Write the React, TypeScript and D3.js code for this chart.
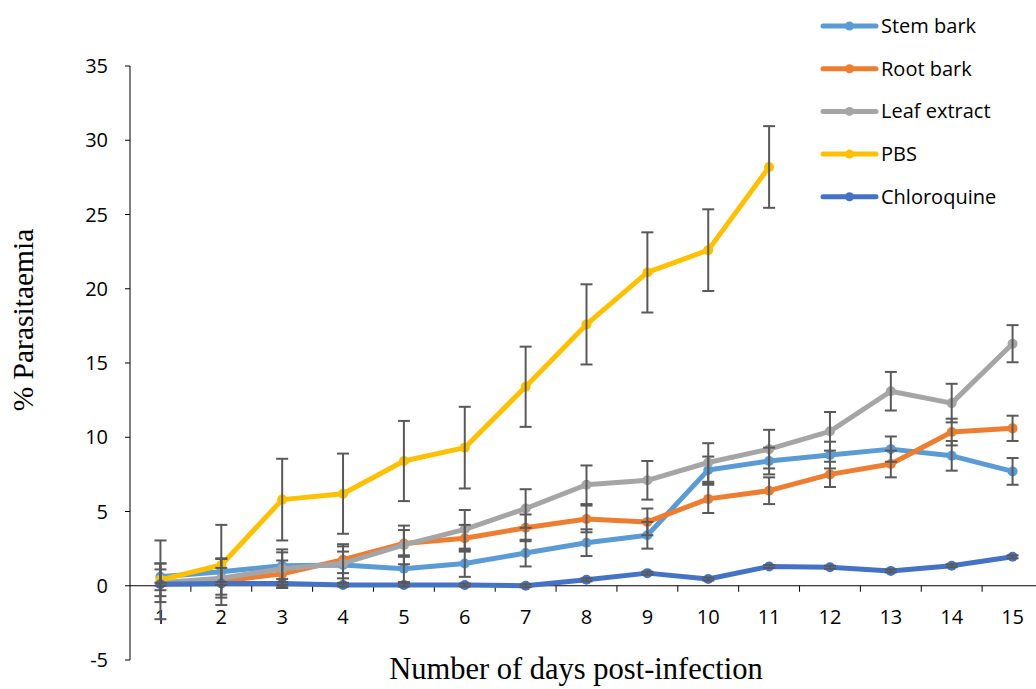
import { useEffect, useRef } from "react";
import * as d3 from "d3";

const days = [1, 2, 3, 4, 5, 6, 7, 8, 9, 10, 11, 12, 13, 14, 15];
const yTicks = [-5, 0, 5, 10, 15, 20, 25, 30, 35];

const stemBark = [0.6, 0.95, 1.35, 1.4, 1.15, 1.5, 2.2, 2.9, 3.4, 7.8, 8.4, 8.8, 9.2, 8.75, 7.7];
const stemBarkErr = [0.9, 0.9, 0.9, 0.9, 0.9, 0.9, 0.9, 0.9, 0.9, 0.9, 0.9, 0.9, 0.85, 1.0, 0.9];
const rootBark = [0.2, 0.3, 0.8, 1.75, 2.85, 3.2, 3.9, 4.5, 4.3, 5.85, 6.4, 7.5, 8.2, 10.35, 10.6];
const rootBarkErr = [0.9, 0.9, 0.9, 0.9, 0.9, 0.9, 0.9, 0.9, 0.9, 0.95, 0.9, 0.85, 0.9, 0.9, 0.85];
const leafExtract = [0.2, 0.5, 1.15, 1.5, 2.75, 3.8, 5.2, 6.8, 7.1, 8.3, 9.2, 10.4, 13.1, 12.3, 16.3];
const leafExtractErr = [1.3, 1.3, 1.3, 1.3, 1.3, 1.3, 1.3, 1.3, 1.3, 1.3, 1.3, 1.3, 1.3, 1.3, 1.25];
const pbs = [0.4, 1.4, 5.8, 6.2, 8.4, 9.3, 13.4, 17.6, 21.1, 22.6, 28.2];
const pbsErr = [2.65, 2.7, 2.75, 2.7, 2.7, 2.75, 2.7, 2.7, 2.7, 2.75, 2.75];
const chloroquine = [0.1, 0.15, 0.15, 0.05, 0.05, 0.05, 0.0, 0.4, 0.85, 0.45, 1.3, 1.25, 1.0, 1.35, 1.95];
const chloroquineErr = [0.1, 0.1, 0.1, 0.1, 0.1, 0.1, 0.1, 0.1, 0.1, 0.1, 0.1, 0.1, 0.1, 0.1, 0.1];

const seriesNames = ["Stem bark", "Root bark", "Leaf extract", "PBS", "Chloroquine"];
const seriesValues = [stemBark, rootBark, leafExtract, pbs, chloroquine];
const seriesErrors = [stemBarkErr, rootBarkErr, leafExtractErr, pbsErr, chloroquineErr];
const colors = ["#5B9BD5", "#ED7D31", "#A5A5A5", "#FFC000", "#4472C4"];

const App = () => {
  const ref = useRef<SVGSVGElement>(null);

  useEffect(() => {
    const svg = d3.select(ref.current);
    svg.selectAll("*").remove();

    const left = 130, right = 1043, top = 66, bottom = 660;
    const x = d3.scaleBand<number>().domain(days).range([left, right]);
    const y = d3.scaleLinear().domain([-5, 35]).range([bottom, top]);
    const cx = (d: number) => (x(d) as number) + x.bandwidth() / 2;
    const tickFont = "'Open Sans', 'Noto Sans', sans-serif";

    // y axis
    svg.append("line").attr("x1", left).attr("x2", left).attr("y1", y(35)).attr("y2", y(-5))
      .attr("stroke", "#000").attr("stroke-width", 1);
    yTicks.forEach(t => {
      svg.append("line").attr("x1", left - 5).attr("x2", left).attr("y1", y(t)).attr("y2", y(t))
        .attr("stroke", "#000");
      svg.append("text").attr("x", 108).attr("y", y(t)).attr("dy", "0.35em")
        .attr("text-anchor", "end").attr("font-family", tickFont).attr("font-size", 20)
        .text(t);
    });

    // x axis at zero
    const y0 = y(0);
    svg.append("line").attr("x1", left).attr("x2", right).attr("y1", y0).attr("y2", y0)
      .attr("stroke", "#000");
    days.forEach((d, i) => {
      if (i > 0) {
        svg.append("line").attr("x1", x(d)).attr("x2", x(d)).attr("y1", y0).attr("y2", y0 + 6)
          .attr("stroke", "#000");
      }
      svg.append("text").attr("x", cx(d)).attr("y", 624).attr("text-anchor", "middle")
        .attr("font-family", tickFont).attr("font-size", 20).text(d);
    });
    svg.append("line").attr("x1", right).attr("x2", right).attr("y1", y0).attr("y2", y0 + 6)
      .attr("stroke", "#000");

    // lines
    const line = d3.line<number>().x((_, i) => cx(days[i])).y(v => y(v));
    seriesValues.forEach((vals, s) => {
      const g = svg.append("g");
      g.append("path").datum(vals).attr("d", line).attr("fill", "none")
        .attr("stroke", colors[s]).attr("stroke-width", 5).attr("stroke-linejoin", "round");
      g.selectAll("circle").data(vals).join("circle")
        .attr("cx", (_, i) => cx(days[i])).attr("cy", v => y(v)).attr("r", 5)
        .attr("fill", colors[s]);
    });

    // error bars
    seriesValues.forEach((vals, s) => {
      const errs = seriesErrors[s];
      vals.forEach((v, i) => {
        const px = cx(days[i]);
        const e = errs[i];
        const g = svg.append("g").attr("stroke", "#595959").attr("stroke-width", 2);
        g.append("line").attr("x1", px).attr("x2", px).attr("y1", y(v + e)).attr("y2", y(v - e));
        g.append("line").attr("x1", px - 6).attr("x2", px + 6).attr("y1", y(v + e)).attr("y2", y(v + e));
        g.append("line").attr("x1", px - 6).attr("x2", px + 6).attr("y1", y(v - e)).attr("y2", y(v - e));
      });
    });

    // legend
    seriesNames.forEach((name, s) => {
      const ly = 26 + s * 42.7;
      svg.append("line").attr("x1", 823).attr("x2", 876).attr("y1", ly).attr("y2", ly)
        .attr("stroke", colors[s]).attr("stroke-width", 5).attr("stroke-linecap", "round");
      svg.append("circle").attr("cx", 849.5).attr("cy", ly).attr("r", 4.5).attr("fill", colors[s]);
      svg.append("text").attr("x", 881).attr("y", ly).attr("dy", "0.35em")
        .attr("font-family", tickFont).attr("font-size", 20).text(name);
    });

    // axis titles
    svg.append("text").attr("x", 576).attr("y", 679).attr("text-anchor", "middle")
      .attr("font-family", "'Liberation Serif', serif").attr("font-size", 30.5)
      .text("Number of days post-infection");
    svg.append("text").attr("transform", `translate(33, 320) rotate(-90)`).attr("text-anchor", "middle")
      .attr("font-family", "'Liberation Serif', serif").attr("font-size", 29.5)
      .text("% Parasitaemia");
  }, []);

  return (
    <svg ref={ref} width={1036} height={689}
      style={{ position: "absolute", left: 0, top: 0, background: "#fff" }} />
  );
};

export default App;
